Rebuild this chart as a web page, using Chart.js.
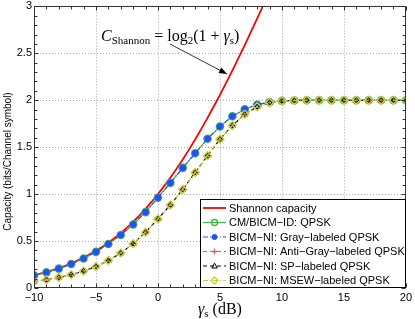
<!DOCTYPE html>
<html><head><meta charset="utf-8">
<script src="https://cdn.jsdelivr.net/npm/chart.js@4.4.0/dist/chart.umd.min.js"></script>
<style>html,body{margin:0;padding:0;background:#fff}canvas{display:block}</style>
</head><body>
<canvas id="c" width="415" height="319"></canvas>
<script>
// ---------- data ----------
const snrDb = [-10,-9,-8,-7,-6,-5,-4,-3,-2,-1,0,1,2,3,4,5,6,7,8,9,10,11,12,13,14,15,16,17,18,19,20];
const shannonDb = [-10,-9.5,-9,-8.5,-8,-7.5,-7,-6.5,-6,-5.5,-5,-4.5,-4,-3.5,-3,-2.5,-2,-1.5,-1,-0.5,0,0.5,1,1.5,2,2.5,3,3.5,4,4.5,5,5.5,6,6.5,7,7.5,8,8.5,9];
const shannonCap = [0.1375,0.1534,0.1711,0.1907,0.2123,0.2361,0.2624,0.2915,0.3233,0.3582,0.3964,0.4381,0.4835,0.5328,0.5861,0.6437,0.7058,0.7722,0.8434,0.9194,1.0,1.0854,1.1756,1.2705,1.3702,1.4743,1.5827,1.6954,1.8122,1.9330,2.0574,2.1853,2.3165,2.4507,2.5878,2.7276,2.8698,3.0143,3.1608];
const cmQpsk = [0.134,0.166,0.206,0.255,0.314,0.385,0.468,0.565,0.676,0.808,0.962,1.12,1.28,1.435,1.59,1.72,1.83,1.905,1.953,1.98,1.993,1.998,2,2,2,2,2,2,2,2,2];
const grayQpsk = [0.134,0.166,0.206,0.255,0.314,0.385,0.468,0.565,0.676,0.808,0.962,1.12,1.28,1.435,1.59,1.72,1.83,1.905,1.953,1.98,1.993,1.998,2,2,2,2,2,2,2,2,2];
const antiGrayQpsk = [0.068,0.088,0.112,0.142,0.180,0.229,0.292,0.372,0.472,0.594,0.735,0.885,1.05,1.23,1.41,1.585,1.73,1.85,1.93,1.975,1.993,1.998,2,2,2,2,2,2,2,2,2];
const spQpsk = [0.068,0.088,0.112,0.142,0.180,0.229,0.292,0.372,0.472,0.594,0.735,0.885,1.05,1.23,1.41,1.585,1.73,1.85,1.93,1.975,1.993,1.998,2,2,2,2,2,2,2,2,2];
const msewQpsk = [0.068,0.088,0.112,0.142,0.180,0.229,0.292,0.372,0.472,0.594,0.735,0.885,1.05,1.23,1.41,1.585,1.73,1.85,1.93,1.975,1.993,1.998,2,2,2,2,2,2,2,2,2];
const seriesLabels = ['Shannon capacity','CM/BICM\u2212ID: QPSK','BICM\u2212NI: Gray\u2212labeled QPSK','BICM\u2212NI: Anti\u2212Gray\u2212labeled QPSK','BICM\u2212NI: SP\u2212labeled QPSK','BICM\u2212NI: MSEW\u2212labeled QPSK'];
const xMajorTicks = [-10,-5,0,5,10,15,20];
const yMajorTicks = [0,0.5,1,1.5,2,2.5,3];
const yTitle = 'Capacity (bits/Channel symbol)';

// ---------- styles ----------
const SANS = '"Liberation Sans", Arial, Helvetica, sans-serif';
const SERIF = '"Liberation Serif", "DejaVu Serif", serif';
const styles = [
  {color:'#ff0000', width:1.8, dash:[], point:false, r:0},
  {color:'#44b844', width:1.1, dash:[], point:'circle', fill:'rgba(0,0,0,0)', r:3.6, pw:1.4},
  {color:'#2050ff', width:1.1, dash:[5,2,1,2], point:'circle', fill:'#2050ff', r:3.0, pw:1},
  {color:'#b86a60', width:1.1, dash:[4,3], point:'cross', fill:'#b86a60', r:3.4, pw:1.3},
  {color:'#000000', width:1.1, dash:[4,3], point:'triangle', fill:'rgba(0,0,0,0)', r:3.4, pw:1},
  {color:'#c8d23c', width:1.1, dash:[5,2,1,2], point:'rectRot', fill:'rgba(0,0,0,0)', r:4.0, pw:1.4}
];
const seriesX = [shannonDb, snrDb, snrDb, snrDb, snrDb, snrDb];
const seriesY = [shannonCap, cmQpsk, grayQpsk, antiGrayQpsk, spQpsk, msewQpsk];

const near = (v, list) => list.some(m => Math.abs(m - v) < 1e-6);
const fmt = v => (v < 0 ? '\u2212' + Math.abs(v) : String(Math.round(v * 10) / 10));

const datasets = seriesLabels.map((label, i) => {
  const s = styles[i];
  return {
    label,
    data: seriesX[i].map((x, k) => ({x, y: seriesY[i][k]})),
    borderColor: s.color, borderWidth: s.width, borderDash: s.dash,
    pointStyle: s.point || 'circle', pointRadius: s.r,
    pointBorderColor: s.color, pointBackgroundColor: s.fill || s.color,
    pointBorderWidth: s.pw || 1, fill: false, tension: 0,
    order: seriesLabels.length - i
  };
});

function drawMarker(ctx, style, x, y, r, stroke, fill, lw) {
  if (!style || r <= 0) return;
  ctx.save();
  ctx.setLineDash([]);
  ctx.lineWidth = lw;
  ctx.beginPath();
  if (style === 'circle') ctx.arc(x, y, r, 0, Math.PI * 2);
  else if (style === 'cross') { ctx.moveTo(x - r, y); ctx.lineTo(x + r, y); ctx.moveTo(x, y - r); ctx.lineTo(x, y + r); }
  else if (style === 'triangle') { ctx.moveTo(x, y - r); ctx.lineTo(x + r * 0.95, y + r * 0.7); ctx.lineTo(x - r * 0.95, y + r * 0.7); ctx.closePath(); }
  else if (style === 'rectRot') { ctx.moveTo(x, y - r); ctx.lineTo(x + r, y); ctx.lineTo(x, y + r); ctx.lineTo(x - r, y); ctx.closePath(); }
  if (style !== 'cross') { ctx.fillStyle = fill; ctx.fill(); }
  ctx.strokeStyle = stroke; ctx.stroke();
  ctx.restore();
}

const dottedGrid = {
  id: 'dottedGrid',
  beforeDatasetsDraw(chart) {
    const {ctx, chartArea: a, scales: {x, y}} = chart;
    ctx.save();
    ctx.strokeStyle = '#a8a8a8'; ctx.lineWidth = 1; ctx.setLineDash([1, 2]);
    ctx.beginPath();
    x.ticks.forEach(t => {
      if (!near(t.value, xMajorTicks) || t.value === x.min || t.value === x.max) return;
      const px = Math.round(x.getPixelForValue(t.value)) + 0.5;
      ctx.moveTo(px, a.top); ctx.lineTo(px, a.bottom);
    });
    y.ticks.forEach(t => {
      if (!near(t.value, yMajorTicks) || t.value === y.min || t.value === y.max) return;
      const py = Math.round(y.getPixelForValue(t.value)) + 0.5;
      ctx.moveTo(a.left, py); ctx.lineTo(a.right, py);
    });
    ctx.stroke();
    ctx.restore();
  }
};

const overlay = {
  id: 'overlay',
  afterDraw(chart) {
    const {ctx, chartArea: a, scales: {x, y}} = chart;
    ctx.save();
    const L = Math.round(a.left) + 0.5, R = Math.round(a.right) - 0.5;
    const T = Math.round(a.top) + 0.5, B = Math.round(a.bottom) - 0.5;
    // inward ticks
    ctx.strokeStyle = '#333'; ctx.lineWidth = 1; ctx.setLineDash([]);
    ctx.beginPath();
    x.ticks.forEach(t => {
      const px = Math.round(x.getPixelForValue(t.value)) + 0.5;
      const len = near(t.value, xMajorTicks) ? 4 : 3;
      ctx.moveTo(px, B); ctx.lineTo(px, B - len);
      ctx.moveTo(px, T); ctx.lineTo(px, T + len);
    });
    y.ticks.forEach(t => {
      const py = Math.round(y.getPixelForValue(t.value)) + 0.5;
      const len = near(t.value, yMajorTicks) ? 4 : 3;
      ctx.moveTo(L, py); ctx.lineTo(L + len, py);
      ctx.moveTo(R, py); ctx.lineTo(R - len, py);
    });
    ctx.stroke();
    ctx.strokeRect(L, T, R - L, B - T);

    // legend
    const lx0 = 200.5, ly0 = 199.5, lx1 = 405.5, ly1 = 287.5;
    ctx.fillStyle = '#fff'; ctx.fillRect(lx0, ly0, lx1 - lx0, ly1 - ly0);
    ctx.strokeStyle = '#000'; ctx.lineWidth = 1; ctx.strokeRect(lx0, ly0, lx1 - lx0, ly1 - ly0);
    ctx.font = '11px ' + SANS; ctx.textBaseline = 'middle'; ctx.textAlign = 'left';
    chart.data.datasets.forEach((ds, i) => {
      const ry = 208 + i * 14.5;
      ctx.save();
      ctx.strokeStyle = ds.borderColor; ctx.lineWidth = ds.borderWidth; ctx.setLineDash(ds.borderDash);
      ctx.beginPath(); ctx.moveTo(203, ry); ctx.lineTo(226, ry); ctx.stroke();
      ctx.restore();
      if (ds.pointRadius > 0) drawMarker(ctx, ds.pointStyle, 214.5, ry, ds.pointRadius * 0.85, ds.pointBorderColor, ds.pointBackgroundColor, ds.pointBorderWidth);
      ctx.fillStyle = '#000';
      ctx.fillText(ds.label, 229, ry + 0.5);
    });

    // annotation: C_Shannon = log2(1 + γs)
    const segs = [
      ['C', 'italic 16px ' + SERIF, 0],
      ['Shannon', '11px ' + SERIF, 3],
      [' = log', '16px ' + SERIF, 0],
      ['2', '11px ' + SERIF, 3],
      ['(1 + ', '16px ' + SERIF, 0],
      ['\u03b3', 'italic 16px ' + SERIF, 0],
      ['s', '11px ' + SERIF, 3],
      [')', '16px ' + SERIF, 0]
    ];
    ctx.fillStyle = '#000'; ctx.textBaseline = 'alphabetic'; ctx.textAlign = 'left';
    let cx = 101;
    segs.forEach(([t, f, dy]) => { ctx.font = f; ctx.fillText(t, cx, 41 + dy); cx += ctx.measureText(t).width; });
    // arrow
    const ax0 = 170, ay0 = 44, ax1 = 227, ay1 = 74;
    ctx.strokeStyle = '#000'; ctx.lineWidth = 0.8;
    ctx.beginPath(); ctx.moveTo(ax0, ay0); ctx.lineTo(ax1, ay1); ctx.stroke();
    const ang = Math.atan2(ay1 - ay0, ax1 - ax0), hl = 8, hw = 3;
    ctx.beginPath();
    ctx.moveTo(ax1, ay1);
    ctx.lineTo(ax1 - hl * Math.cos(ang) + hw * Math.sin(ang), ay1 - hl * Math.sin(ang) - hw * Math.cos(ang));
    ctx.lineTo(ax1 - hl * Math.cos(ang) - hw * Math.sin(ang), ay1 - hl * Math.sin(ang) + hw * Math.cos(ang));
    ctx.closePath(); ctx.fillStyle = '#000'; ctx.fill();

    // x title: γs (dB)
    const xt = [['\u03b3', 'italic 16px ' + SERIF, 0], ['s', '11px ' + SERIF, 3], [' (dB)', '16px ' + SERIF, 0]];
    let w = 0; xt.forEach(([t, f]) => { ctx.font = f; w += ctx.measureText(t).width; });
    cx = (a.left + a.right) / 2 - w / 2;
    xt.forEach(([t, f, dy]) => { ctx.font = f; ctx.fillText(t, cx, 314 + dy); cx += ctx.measureText(t).width; });

    // y title
    ctx.save();
    ctx.translate(11, 161.5); ctx.rotate(-Math.PI / 2);
    ctx.font = '10px ' + SANS; ctx.textAlign = 'center'; ctx.textBaseline = 'alphabetic';
    ctx.fillText(yTitle, 0, 0);
    ctx.restore();
    ctx.restore();
  }
};

new Chart(document.getElementById('c'), {
  type: 'line',
  data: {datasets},
  options: {
    responsive: false, animation: false, devicePixelRatio: 1,
    layout: {padding: {top: 5, right: 7, left: 0, bottom: 0}},
    plugins: {legend: {display: false}, tooltip: {enabled: false}},
    scales: {
      x: {
        type: 'linear', min: -10, max: 20,
        afterFit(s) { s.height = 31; },
        ticks: {stepSize: 1, autoSkip: false, maxRotation: 0, minRotation: 0, padding: 3, color: '#000',
          font: {family: SANS, size: 11},
          callback: v => near(v, xMajorTicks) ? fmt(v) : ''},
        grid: {display: false, drawTicks: false},
        border: {display: false}
      },
      y: {
        type: 'linear', min: 0, max: 3,
        afterFit(s) { s.width = 34; },
        ticks: {stepSize: 0.1, autoSkip: false, padding: 2, color: '#000',
          font: {family: SANS, size: 11, lineHeight: 0.8},
          callback: v => near(v, yMajorTicks) ? fmt(v) : ''},
        grid: {display: false, drawTicks: false},
        border: {display: false}
      }
    }
  },
  plugins: [dottedGrid, overlay]
});
</script>
</body></html>
